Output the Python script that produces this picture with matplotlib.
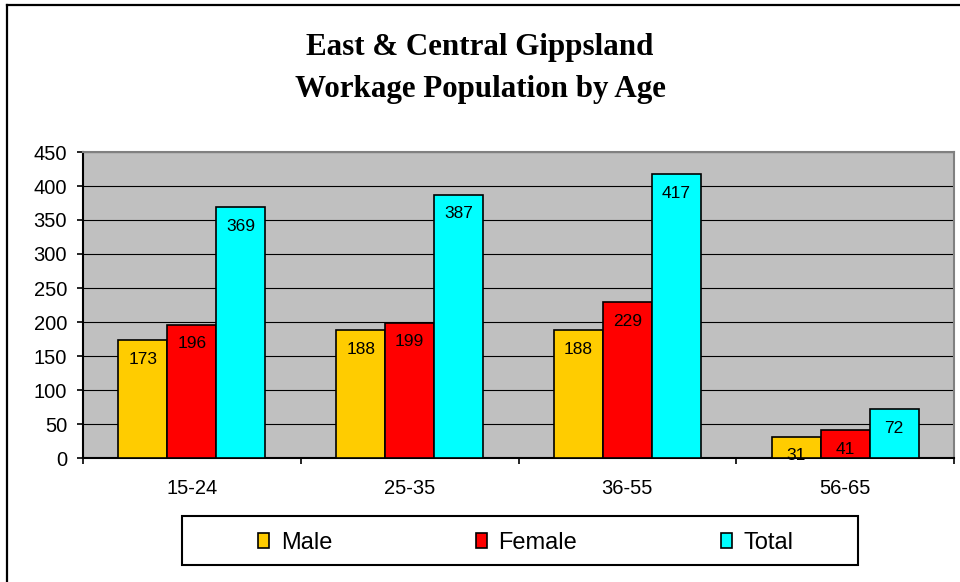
import matplotlib.pyplot as plt
import numpy as np
from matplotlib.patches import Rectangle
from matplotlib.lines import Line2D

ages = ["15-24", "25-35", "36-55", "56-65"]
male = [173, 188, 188, 31]
female = [196, 199, 229, 41]
total = [369, 387, 417, 72]
series_names = ["Male", "Female", "Total"]
colors = ["#FFCC00", "#FF0000", "#00FFFF"]

fig = plt.figure(figsize=(9.6, 5.82), dpi=100)
ax = fig.add_axes([83 / 960, 1 - 458 / 582, (954 - 83) / 960, (458 - 152) / 582])
ax.set_facecolor("#C0C0C0")

x = np.arange(len(ages))
w = 0.225
for i, (vals, name, c) in enumerate(zip([male, female, total], series_names, colors)):
    bars = ax.bar(x + (i - 1) * w, vals, w, color=c, edgecolor="black",
                  linewidth=1.2, label=name, zorder=3)
    for b, v in zip(bars, vals):
        ax.annotate(str(v), (b.get_x() + b.get_width() / 2, v),
                    xytext=(0, -19), textcoords="offset pixels",
                    ha="center", va="center", fontsize=12.5,
                    family="Liberation Sans", zorder=4)

ax.set_ylim(0, 450)
ax.set_xlim(-0.5, 3.5)
ax.set_yticks(range(0, 451, 50))
ax.yaxis.grid(True, color="black", linewidth=0.8, zorder=1)
ax.set_axisbelow(True)

ax.set_xticks(x)
ax.set_xticklabels(ages)
ax.set_xticks(np.arange(-0.5, 3.6, 1), minor=True)
ax.tick_params(axis="x", which="major", length=0, pad=15, labelsize=14.5)
ax.tick_params(axis="x", which="minor", length=4.5, width=1.2, direction="out")
ax.tick_params(axis="y", length=4.5, width=1.2, pad=7, labelsize=14.5)
for lbl in ax.get_xticklabels() + ax.get_yticklabels():
    lbl.set_family("Liberation Sans")

ax.spines["left"].set_color("black")
ax.spines["bottom"].set_color("black")
ax.spines["left"].set_linewidth(1.5)
ax.spines["bottom"].set_linewidth(1.5)
ax.spines["top"].set_color("#808080")
ax.spines["right"].set_color("#808080")
ax.spines["top"].set_linewidth(1.5)
ax.spines["right"].set_linewidth(1.5)

fig.text(0.5, 1 - 47 / 582, "East & Central Gippsland", ha="center", va="center",
         fontsize=22.3, fontweight="bold", family="Liberation Serif")
fig.text(0.5, 1 - 90 / 582, "Workage Population by Age", ha="center", va="center",
         fontsize=22.3, fontweight="bold", family="Liberation Serif")

# legend box
fig.patches.append(Rectangle((182 / 960, 1 - 565 / 582), 676 / 960, 49 / 582,
                             transform=fig.transFigure, facecolor="white",
                             edgecolor="black", linewidth=1.5))
handles, labels = ax.get_legend_handles_labels()
fig.legend(handles, labels, loc="center", bbox_to_anchor=(526 / 960, 1 - 543 / 582),
           ncol=3, frameon=False, prop={"family": "Liberation Sans", "size": 17},
           handlelength=0.45, handleheight=0.6, handletextpad=0.5, columnspacing=6.1)

# outer chart border (top and left visible)
fig.add_artist(Line2D([7 / 960, 1], [1 - 5 / 582, 1 - 5 / 582], transform=fig.transFigure,
                      color="black", linewidth=1.6))
fig.add_artist(Line2D([7 / 960, 7 / 960], [0, 1 - 5 / 582], transform=fig.transFigure,
                      color="black", linewidth=1.6))

fig.savefig("out.png", dpi=100)
